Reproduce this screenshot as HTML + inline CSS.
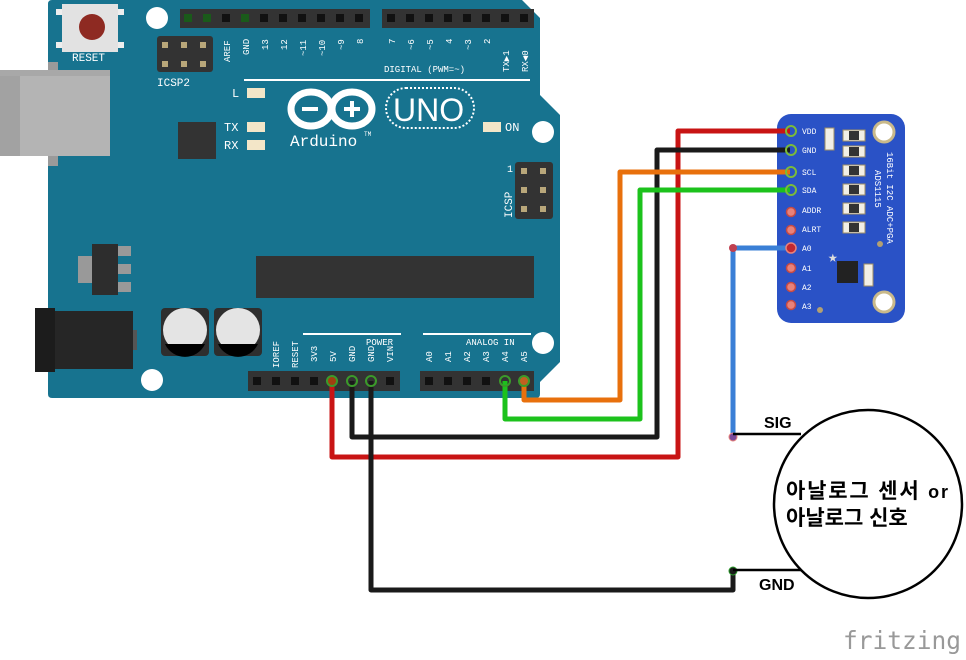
<!DOCTYPE html>
<html><head><meta charset="utf-8"><style>html,body{margin:0;padding:0;background:#fff}svg{display:block}</style></head>
<body>
<svg width="966" height="660" viewBox="0 0 966 660" xmlns="http://www.w3.org/2000/svg" font-family="Liberation Mono, monospace">
<!-- board -->
<path d="M52,0 L522,0 L540,18 L540,95 L560,115 L560,362 L540,382 L540,394 Q540,398 536,398 L52,398 Q48,398 48,394 L48,4 Q48,0 52,0Z" fill="#17738f"/>
<!-- USB -->
<rect x="48" y="62" width="10" height="104" fill="#9a9a9a"/>
<rect x="0" y="70" width="110" height="86" fill="#b4b4b4"/>
<rect x="0" y="70" width="20" height="86" fill="#a2a2a2"/>
<rect x="0" y="70" width="110" height="6" fill="#a8a8a8"/>
<!-- reset -->
<rect x="62" y="4" width="56" height="48" fill="#e2e2e2"/>
<rect x="56" y="9" width="6" height="6" fill="#eee"/><rect x="118" y="9" width="6" height="6" fill="#eee"/>
<rect x="56" y="42" width="6" height="6" fill="#eee"/><rect x="118" y="42" width="6" height="6" fill="#eee"/>
<circle cx="92" cy="27" r="13" fill="#8e2a22"/>
<text x="72" y="61" font-size="11" fill="#fff">RESET</text>
<!-- holes -->
<circle cx="157" cy="18" r="11" fill="#fff"/>
<circle cx="543" cy="132" r="11" fill="#fff"/>
<circle cx="543" cy="343" r="11" fill="#fff"/>
<circle cx="152" cy="380" r="11" fill="#fff"/>
<!-- top headers -->
<rect x="180" y="9" width="190" height="19" fill="#333"/>
<rect x="382" y="9" width="152" height="19" fill="#333"/>
<g fill="#111">
<rect x="184" y="14" width="8" height="8" fill="#1a5a1a"/><rect x="203" y="14" width="8" height="8" fill="#1a5a1a"/><rect x="222" y="14" width="8" height="8"/><rect x="241" y="14" width="8" height="8" fill="#1a5a1a"/><rect x="260" y="14" width="8" height="8"/><rect x="279" y="14" width="8" height="8"/><rect x="298" y="14" width="8" height="8"/><rect x="317" y="14" width="8" height="8"/><rect x="336" y="14" width="8" height="8"/><rect x="355" y="14" width="8" height="8"/>
<rect x="387" y="14" width="8" height="8"/><rect x="406" y="14" width="8" height="8"/><rect x="425" y="14" width="8" height="8"/><rect x="444" y="14" width="8" height="8"/><rect x="463" y="14" width="8" height="8"/><rect x="482" y="14" width="8" height="8"/><rect x="501" y="14" width="8" height="8"/><rect x="520" y="14" width="8" height="8"/>
</g>
<g font-size="9" fill="#fff">
<text transform="translate(230,62) rotate(-90)">AREF</text>
<text transform="translate(249,55) rotate(-90)">GND</text>
<text transform="translate(268,50) rotate(-90)">13</text>
<text transform="translate(287,50) rotate(-90)">12</text>
<text transform="translate(306,56) rotate(-90)">~11</text>
<text transform="translate(325,56) rotate(-90)">~10</text>
<text transform="translate(344,50) rotate(-90)">~9</text>
<text transform="translate(363,44) rotate(-90)">8</text>
<text transform="translate(395,44) rotate(-90)">7</text>
<text transform="translate(414,50) rotate(-90)">~6</text>
<text transform="translate(433,50) rotate(-90)">~5</text>
<text transform="translate(452,44) rotate(-90)">4</text>
<text transform="translate(471,50) rotate(-90)">~3</text>
<text transform="translate(490,44) rotate(-90)">2</text>
<text transform="translate(509,72) rotate(-90)">TX▶1</text>
<text transform="translate(528,72) rotate(-90)">RX◀0</text>
<text x="384" y="72">DIGITAL (PWM=~)</text>
</g>
<rect x="244" y="79" width="286" height="2" fill="#fff"/>
<!-- ICSP2 -->
<rect x="157" y="36" width="56" height="36" rx="3" fill="#333"/>
<g fill="#b9a77a"><rect x="162" y="42" width="6" height="6"/><rect x="181" y="42" width="6" height="6"/><rect x="200" y="42" width="6" height="6"/><rect x="162" y="61" width="6" height="6"/><rect x="181" y="61" width="6" height="6"/><rect x="200" y="61" width="6" height="6"/></g>
<text x="157" y="86" font-size="11" fill="#fff">ICSP2</text>
<!-- ICSP -->
<rect x="515" y="162" width="38" height="57" rx="3" fill="#333"/>
<g fill="#b9a77a"><rect x="521" y="168" width="6" height="6"/><rect x="540" y="168" width="6" height="6"/><rect x="521" y="187" width="6" height="6"/><rect x="540" y="187" width="6" height="6"/><rect x="521" y="206" width="6" height="6"/><rect x="540" y="206" width="6" height="6"/></g>
<text x="507" y="172" font-size="10" fill="#fff">1</text>
<text transform="translate(512,218) rotate(-90)" font-size="11" fill="#fff">ICSP</text>
<!-- LEDs -->
<g fill="#f3e6c8"><rect x="247" y="88" width="18" height="10"/><rect x="247" y="122" width="18" height="10"/><rect x="247" y="140" width="18" height="10"/><rect x="483" y="122" width="18" height="10"/></g>
<g font-size="12" fill="#fff"><text x="232" y="97">L</text><text x="224" y="131">TX</text><text x="224" y="149">RX</text><text x="505" y="131">ON</text></g>
<rect x="178" y="122" width="38" height="37" fill="#333"/>
<!-- logo -->
<g fill="none" stroke="#fff" stroke-width="7">
<ellipse cx="311" cy="109" rx="20" ry="17"/><ellipse cx="352" cy="109" rx="20" ry="17"/>
</g>
<rect x="302" y="107" width="16" height="4" fill="#fff"/>
<rect x="344" y="107" width="16" height="4" fill="#fff"/><rect x="350" y="101" width="4" height="16" fill="#fff"/>
<rect x="386" y="88" width="88" height="40" rx="20" fill="none" stroke="#fff" stroke-width="2" stroke-dasharray="2 2"/>
<text x="393" y="121" font-family="Liberation Sans, sans-serif" font-size="32" fill="#fff">UNO</text>
<text x="290" y="146" font-size="16" fill="#fff">Arduino</text>
<text x="364" y="136" font-size="6" fill="#fff">TM</text>
<!-- regulator -->
<rect x="78" y="256" width="16" height="27" fill="#999"/>
<rect x="118" y="246" width="13" height="10" fill="#999"/><rect x="118" y="264" width="13" height="10" fill="#999"/><rect x="118" y="282" width="13" height="10" fill="#999"/>
<rect x="92" y="244" width="26" height="51" fill="#2d2d2d"/>
<!-- big chip -->
<rect x="256" y="256" width="278" height="42" fill="#333"/>
<!-- barrel -->
<rect x="35" y="308" width="20" height="64" fill="#1c1c1c"/>
<rect x="55" y="311" width="78" height="58" fill="#262626"/>
<rect x="133" y="330" width="4" height="20" fill="#555"/>
<!-- caps -->
<rect x="161" y="308" width="48" height="48" rx="4" fill="#2e2e2e"/>
<rect x="214" y="308" width="48" height="48" rx="4" fill="#2e2e2e"/>
<circle cx="185" cy="330" r="22" fill="#e4e4e4"/><circle cx="238" cy="330" r="22" fill="#e4e4e4"/>
<path d="M165,344 L205,344 A22,22 0 0 1 165,344Z" fill="#000"/>
<path d="M218,344 L258,344 A22,22 0 0 1 218,344Z" fill="#000"/>
<!-- power headers -->
<rect x="303" y="333" width="98" height="2" fill="#fff"/>
<rect x="423" y="333" width="108" height="2" fill="#fff"/>
<g font-size="9" fill="#fff">
<text x="366" y="345">POWER</text><text x="466" y="345">ANALOG IN</text>
<text transform="translate(279,368) rotate(-90)">IOREF</text>
<text transform="translate(298,368) rotate(-90)">RESET</text>
<text transform="translate(317,362) rotate(-90)">3V3</text>
<text transform="translate(336,362) rotate(-90)">5V</text>
<text transform="translate(355,362) rotate(-90)">GND</text>
<text transform="translate(374,362) rotate(-90)">GND</text>
<text transform="translate(393,362) rotate(-90)">VIN</text>
<text transform="translate(432,362) rotate(-90)">A0</text>
<text transform="translate(451,362) rotate(-90)">A1</text>
<text transform="translate(470,362) rotate(-90)">A2</text>
<text transform="translate(489,362) rotate(-90)">A3</text>
<text transform="translate(508,362) rotate(-90)">A4</text>
<text transform="translate(527,362) rotate(-90)">A5</text>
</g>
<rect x="248" y="371" width="152" height="20" fill="#333"/>
<rect x="420" y="371" width="114" height="20" fill="#333"/>
<g fill="#111"><rect x="253" y="377" width="8" height="8"/><rect x="272" y="377" width="8" height="8"/><rect x="291" y="377" width="8" height="8"/><rect x="310" y="377" width="8" height="8"/><rect x="386" y="377" width="8" height="8"/>
<rect x="425" y="377" width="8" height="8"/><rect x="444" y="377" width="8" height="8"/><rect x="463" y="377" width="8" height="8"/><rect x="482" y="377" width="8" height="8"/></g>
<!-- sensor board -->
<rect x="777" y="114" width="128" height="209" rx="14" fill="#2a52c6"/>
<circle cx="884" cy="132" r="10" fill="#fff" stroke="#c9b98a" stroke-width="3"/>
<circle cx="884" cy="302" r="10" fill="#fff" stroke="#c9b98a" stroke-width="3"/>
<g fill="#f2efe6" stroke="#9e8e64" stroke-width="1">
<rect x="843" y="130" width="22" height="11"/><rect x="843" y="146" width="22" height="11"/><rect x="843" y="165" width="22" height="11"/><rect x="843" y="184" width="22" height="11"/><rect x="843" y="203" width="22" height="11"/><rect x="843" y="222" width="22" height="11"/>
<rect x="825" y="128" width="9" height="22"/><rect x="864" y="264" width="9" height="22"/>
</g>
<g fill="#333"><rect x="849" y="131" width="10" height="9"/><rect x="849" y="147" width="10" height="9"/><rect x="849" y="166" width="10" height="9"/><rect x="849" y="185" width="10" height="9"/><rect x="849" y="204" width="10" height="9"/><rect x="849" y="223" width="10" height="9"/></g>
<rect x="837" y="261" width="21" height="22" fill="#222"/>
<text x="828" y="262" font-size="16" fill="#ddd">★</text>
<circle cx="880" cy="244" r="3" fill="#b3a072"/><circle cx="820" cy="310" r="3" fill="#b3a072"/>
<g font-size="8" fill="#fff">
<text x="802" y="134">VDD</text><text x="802" y="153">GND</text><text x="802" y="175">SCL</text><text x="802" y="193">SDA</text><text x="802" y="213">ADDR</text><text x="802" y="232">ALRT</text><text x="802" y="251">A0</text><text x="802" y="271">A1</text><text x="802" y="290">A2</text><text x="802" y="309">A3</text>
<text transform="translate(887,152) rotate(90)" font-size="9">16Bit I2C ADC+PGA</text>
<text transform="translate(875,170) rotate(90)" font-size="9">ADS1115</text>
</g>
<g fill="#e8827a" stroke="#c54a44" stroke-width="1.5">
<circle cx="791" cy="212" r="4.5"/><circle cx="791" cy="230" r="4.5"/><circle cx="791" cy="268" r="4.5"/><circle cx="791" cy="287" r="4.5"/><circle cx="791" cy="305" r="4.5"/>
</g>
<!-- wires -->
<g fill="none" stroke-width="5" stroke-linejoin="round">
<path d="M332,381 V457 H678 V131 H790" stroke="#c81414"/>
<path d="M352,381 V437 H657 V150 H790" stroke="#1a1a1a"/>
<path d="M524,381 V400 H620 V172 H790" stroke="#e8700c"/>
<path d="M505,381 V419 H640 V190 H790" stroke="#1cc21c"/>
<path d="M371,381 V590 H733 V570" stroke="#1a1a1a"/>
<path d="M790,248 H733 V436" stroke="#3a7fd6"/>
</g>
<g fill="none" stroke-width="2"><circle cx="332" cy="381" r="5" stroke="#3b9a2a" fill="#a04010"/><circle cx="352" cy="381" r="5" stroke="#3b9a2a"/><circle cx="371" cy="381" r="5" stroke="#3b9a2a"/><circle cx="524" cy="381" r="5" stroke="#3b9a2a" fill="#c06020"/><circle cx="505" cy="381" r="5" stroke="#3b9a2a"/></g>
<g fill="none" stroke="#7bbb3a" stroke-width="2"><circle cx="791" cy="131" r="5"/><circle cx="791" cy="150" r="5"/><circle cx="791" cy="172" r="5"/><circle cx="791" cy="190" r="5"/></g>
<circle cx="791" cy="248" r="5" fill="#c02830" stroke="#e8827a" stroke-width="1.5"/>
<circle cx="733" cy="248" r="4" fill="#c04050"/><circle cx="733" cy="437" r="4" fill="#7a4a9a" stroke="#e8827a"/>
<circle cx="733" cy="571" r="4" fill="#1a1a1a" stroke="#2a9a2a"/>
<!-- analog sensor -->
<line x1="733" y1="434" x2="801" y2="434" stroke="#000" stroke-width="2.5"/>
<line x1="733" y1="570" x2="801" y2="570" stroke="#000" stroke-width="2.5"/>
<circle cx="868" cy="504" r="94" fill="#fff" stroke="#000" stroke-width="2.5"/>
<g font-family="Liberation Sans, 'Noto Sans CJK KR', sans-serif" font-weight="bold" fill="#000">
<text x="764" y="428" font-size="16">SIG</text>
<text x="759" y="590" font-size="16">GND</text>
<text x="786" y="498" font-size="21" textLength="162">아날로그 센서 <tspan font-size="18">or</tspan></text>
<text x="786" y="525" font-size="21">아날로그 신호</text>
</g>
<text x="843" y="649" font-family="DejaVu Sans Mono, monospace" font-size="25" fill="#999" textLength="118" lengthAdjust="spacingAndGlyphs">fritzing</text>
</svg>
</body></html>
